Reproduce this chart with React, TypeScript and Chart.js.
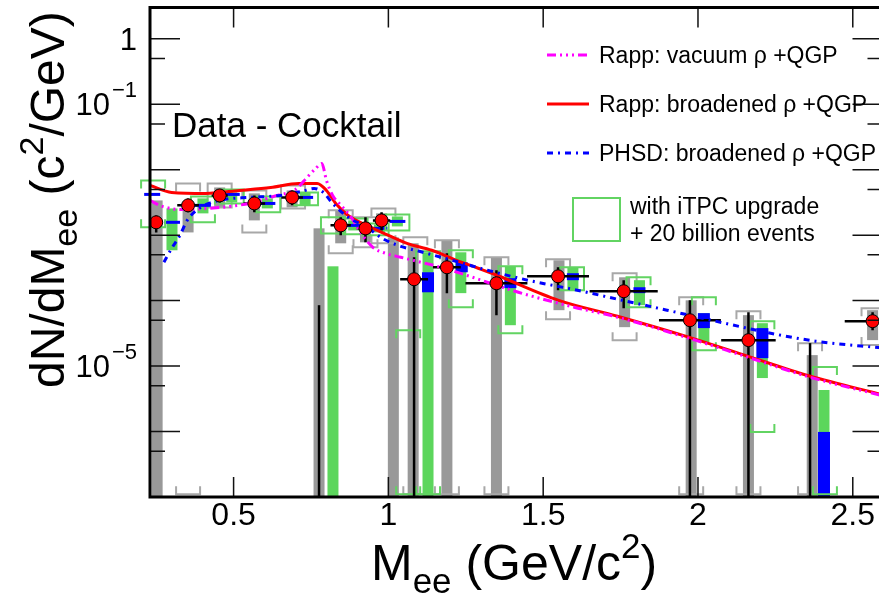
import React, { useEffect, useRef } from "react";
import { Chart, registerables } from "chart.js";

Chart.register(...registerables);

// ---------------- axis ranges & ticks ----------------
const X_MIN = 0.23;
const X_MAX = 2.596;
const Y_MIN = 1e-7;
const Y_MAX = 3;
const OFF = 1e-9; // value below the axis (error extends out of frame)
const NEAR_FLOOR = 1.1e-7;

const xTickValues = [0.5, 1, 1.5, 2, 2.5];
const xTickLabels = ["0.5", "1", "1.5", "2", "2.5"];
const yMajorTicks = [1, 1e-1, 1e-2, 1e-3, 1e-4, 1e-5, 1e-6];
const yMinorTicks = [0.5, 5e-2, 5e-3, 5e-4, 5e-5, 5e-6, 5e-7];
const yLabelValues = [1, 1e-1, 1e-5];
const yLabelBases = ["1", "10", "10"];
const yLabelExponents = ["", "\u22121", "\u22125"];

// ---------------- text ----------------
const panelLabel = "Data - Cocktail";
const modelLabels = ["Rapp: vacuum \u03c1 +QGP", "Rapp: broadened \u03c1 +QGP", "PHSD: broadened \u03c1 +QGP"];
const projectionLabels = ["with iTPC upgrade", "+ 20 billion events"];

// ---------------- model curves ----------------
const rappVacMass = [0.23, 0.27, 0.33, 0.42, 0.55, 0.64, 0.70, 0.74, 0.765, 0.785, 0.80, 0.82, 0.85, 0.88, 0.91, 0.95, 0.99, 1.04, 1.18, 1.42, 1.60, 1.74, 1.97, 2.16, 2.36, 2.60];
const rappVacYield = [3.39e-3, 2.75e-3, 2.47e-3, 2.56e-3, 3.05e-3, 4.04e-3, 4.99e-3, 7.87e-3, 1.04e-2, 1.24e-2, 6.84e-3, 4.04e-3, 2.75e-3, 1.87e-3, 1.10e-3, 6.52e-4, 5.28e-4, 4.59e-4, 3.12e-4, 1.34e-4, 7.93e-5, 5.58e-5, 2.67e-5, 1.37e-5, 6.80e-6, 3.49e-6];

const rappBroadMass = [0.23, 0.30, 0.41, 0.52, 0.62, 0.71, 0.77, 0.80, 0.83, 0.87, 0.93, 1.00, 1.06, 1.14, 1.22, 1.29, 1.35, 1.55, 1.74, 1.97, 2.16, 2.36, 2.60];
const rappBroadYield = [5.74e-3, 4.49e-3, 4.34e-3, 4.82e-3, 5.35e-3, 6.16e-3, 6.16e-3, 4.82e-3, 3.05e-3, 2.00e-3, 1.41e-3, 9.93e-4, 7.50e-4, 5.87e-4, 4.13e-4, 3.12e-4, 2.44e-4, 1.01e-4, 5.78e-5, 2.77e-5, 1.42e-5, 7.05e-6, 3.61e-6];

const phsdMass = [0.275, 0.30, 0.325, 0.35, 0.38, 0.42, 0.47, 0.55, 0.65, 0.72, 0.76, 0.79, 0.82, 0.87, 0.93, 0.98, 1.04, 1.10, 1.24, 1.32, 1.45, 1.61, 1.74, 1.90, 2.00, 2.10, 2.25, 2.38, 2.60];
const phsdYield = [3.85e-4, 6.29e-4, 9.59e-4, 1.68e-3, 2.39e-3, 3.05e-3, 3.51e-3, 3.77e-3, 4.04e-3, 4.65e-3, 5.17e-3, 4.49e-3, 3.05e-3, 1.87e-3, 1.32e-3, 8.93e-4, 6.75e-4, 5.66e-4, 3.72e-4, 2.91e-4, 2.05e-4, 1.44e-4, 1.05e-4, 7.14e-5, 5.58e-5, 4.37e-5, 3.07e-5, 2.40e-5, 1.88e-5];

// ---------------- measured data (Data - Cocktail) ----------------
const dataMass = [0.250, 0.353, 0.455, 0.567, 0.689, 0.776, 0.846, 0.926, 0.978, 1.083, 1.189, 1.349, 1.548, 1.760, 1.974, 2.163, 2.362, 2.564];
const dataYield: (number | null)[] = [1.57e-3, 2.85e-3, 4.04e-3, 3.05e-3, 3.77e-3, null, 1.41e-3, 1.27e-3, 1.68e-3, 2.12e-4, 3.23e-4, 1.84e-4, 2.35e-4, 1.39e-4, 5.02e-5, 2.49e-5, null, 4.85e-5];
const dataMassErr = [0.02, 0.035, 0.026, 0.035, 0.035, 0, 0.033, 0.028, 0.028, 0.045, 0.045, 0.1, 0.1, 0.11, 0.1, 0.088, 0, 0.09];
const dataStatLow = [1.10e-3, 2.23e-3, 3.16e-3, 2.23e-3, 2.85e-3, OFF, 9.93e-4, 7.76e-4, 1.18e-3, OFF, 1.30e-4, 5.99e-5, 1.44e-4, 7.66e-5, OFF, OFF, OFF, 3.54e-5];
const dataStatHigh = [2.00e-3, 3.64e-3, 4.82e-3, 4.04e-3, 4.82e-3, 8.51e-5, 1.87e-3, 1.87e-3, 2.23e-3, 4.59e-4, 5.28e-4, 2.91e-4, 3.23e-4, 2.05e-4, 1.01e-4, 6.65e-5, 2.24e-5, 6.65e-5];

// gray filled systematic bands of the data
const sysMass = [0.253, 0.353, 0.455, 0.567, 0.689, 0.776, 0.846, 0.926, 0.978, 1.016, 1.080, 1.189, 1.349, 1.551, 1.763, 1.978, 2.163, 2.369, 2.564];
const sysLow = [OFF, 1.10e-3, 2.65e-3, 1.68e-3, 2.65e-3, OFF, 7.50e-4, 7.76e-4, 1.18e-3, OFF, OFF, OFF, OFF, 7.14e-5, 3.93e-5, OFF, OFF, OFF, 2.49e-5];
const sysHigh = [3.39e-3, 3.05e-3, 5.35e-3, 4.34e-3, 4.82e-3, 1.27e-3, 2.39e-3, 1.51e-3, 2.15e-3, 9.25e-4, 7.50e-4, 8.33e-4, 4.59e-4, 4.13e-4, 2.27e-4, 1.01e-4, 5.99e-5, 1.47e-5, 7.14e-5];

// gray open systematic brackets of the data
const sysBoxMass = [0.353, 0.455, 0.567, 0.692, 0.846, 0.926, 0.984, 1.087, 1.189, 1.349, 1.548, 1.763, 1.978, 2.163, 2.362, 2.567];
const sysBoxLow = [NEAR_FLOOR, 2.65e-3, 1.10e-3, 2.56e-3, 5.28e-4, 6.52e-4, 7.50e-4, NEAR_FLOOR, NEAR_FLOOR, NEAR_FLOOR, 5.20e-5, 2.49e-5, NEAR_FLOOR, NEAR_FLOOR, NEAR_FLOOR, 2.09e-5];
const sysBoxHigh = [6.16e-3, 6.16e-3, 4.82e-3, 5.74e-3, 2.39e-3, 1.87e-3, 2.56e-3, 9.25e-4, 8.33e-4, 4.59e-4, 4.28e-4, 2.62e-4, 1.13e-4, 6.89e-5, 2.24e-5, 7.66e-5];

// ---------------- projection: iTPC upgrade + 20 billion events ----------------
const projMass = [0.301, 0.401, 0.494, 0.609, 0.731, 0.821, 0.888, 0.971, 1.029, 1.128, 1.234, 1.394, 1.596, 1.811, 2.019, 2.208, 2.407];
const projStatLow = [5.87e-4, 2.15e-3, 3.16e-3, 2.56e-3, 2.85e-3, OFF, 1.18e-3, 1.10e-3, 1.36e-3, OFF, 1.30e-4, 4.21e-5, 1.44e-4, 8.51e-5, 2.32e-5, 6.56e-6, OFF];
const projStatHigh = [2.56e-3, 3.64e-3, 4.49e-3, 3.64e-3, 4.49e-3, 3.34e-4, 1.68e-3, 1.46e-3, 1.93e-3, 5.47e-4, 5.47e-4, 3.34e-4, 3.23e-4, 2.05e-4, 6.43e-5, 4.52e-5, 4.31e-6];

const projCentralMass = [0.237, 0.301, 0.401, 0.494, 0.609, 0.731, 0.888, 0.971, 1.029, 1.128, 1.237, 1.394, 1.596, 1.811, 2.019, 2.208, 2.407];
const projCentralLow = [4.19e-3, 1.57e-3, 2.85e-3, 4.19e-3, 3.05e-3, 3.77e-3, 1.41e-3, 1.27e-3, 1.62e-3, 1.34e-4, 2.71e-4, 1.55e-4, 2.05e-4, 1.30e-4, 3.80e-5, 1.32e-5, OFF];
const projCentralHigh = [4.19e-3, 1.57e-3, 2.85e-3, 4.19e-3, 3.05e-3, 3.77e-3, 1.41e-3, 1.27e-3, 1.62e-3, 2.71e-4, 3.85e-4, 2.20e-4, 2.62e-4, 1.60e-4, 6.43e-5, 3.80e-5, 9.86e-7];

const projSysMass = [0.240, 0.401, 0.494, 0.612, 0.734, 0.821, 0.894, 0.962, 1.029, 1.064, 1.128, 1.234, 1.394, 1.593, 1.808, 2.019, 2.208, 2.410];
const projSysLow = [1.32e-3, 1.57e-3, 3.05e-3, 2.23e-3, 2.85e-3, 1.06e-3, 1.03e-3, 9.93e-4, 1.18e-3, NEAR_FLOOR, NEAR_FLOOR, 7.93e-5, 3.18e-5, 1.44e-4, 7.93e-5, 1.75e-5, 9.86e-7, NEAR_FLOOR];
const projSysHigh = [6.84e-3, 3.90e-3, 4.99e-3, 3.90e-3, 4.49e-3, 1.87e-3, 1.80e-3, 1.51e-3, 2.07e-3, 3.54e-5, 5.66e-4, 5.87e-4, 3.34e-4, 3.23e-4, 2.27e-4, 1.13e-4, 4.85e-5, 9.66e-6];

// ---------------- styles ----------------
const FONT = "'Liberation Sans', Arial, Helvetica, sans-serif";
const GRAY_FILL = "#999999";
const GRAY_LINE = "#a8a8a8";
const GREEN_FILL = "#5cd65c";
const GREEN_LINE = "#62d462";
const BLUE = "#0000ff";
const RED = "#ff0000";
const MAGENTA = "#ff00ff";
const DASH_VAC = [9, 4, 2, 4, 2, 4, 2, 4];
const DASH_PHSD = [6, 5, 2, 5];

type Piece = { t: string; s: number; dy: number };

function drawRich(ctx: CanvasRenderingContext2D, pieces: Piece[], x0: number, y0: number) {
  let x = x0;
  ctx.textAlign = "left";
  ctx.textBaseline = "alphabetic";
  for (const p of pieces) {
    ctx.font = `${p.s}px ${FONT}`;
    ctx.fillText(p.t, x, y0 + p.dy);
    x += ctx.measureText(p.t).width;
  }
}

function bracket(ctx: CanvasRenderingContext2D, x: number, top: number, bottom: number | null, hw: number, color: string) {
  const leg = 8;
  ctx.strokeStyle = color;
  ctx.lineWidth = 2;
  ctx.beginPath();
  if (bottom !== null && bottom - top < 2 * leg + 8) {
    ctx.rect(x - hw, top, 2 * hw, bottom - top);
    ctx.stroke();
    return;
  }
  ctx.moveTo(x - hw, top + leg);
  ctx.lineTo(x - hw, top);
  ctx.lineTo(x + hw, top);
  ctx.lineTo(x + hw, top + leg);
  if (bottom !== null) {
    ctx.moveTo(x - hw, bottom - leg);
    ctx.lineTo(x - hw, bottom);
    ctx.lineTo(x + hw, bottom);
    ctx.lineTo(x + hw, bottom - leg);
  }
  ctx.stroke();
}

const overlayPlugin = {
  id: "rootOverlay",
  beforeDatasetsDraw(chart: any) {
    const { ctx, chartArea: ca, scales } = chart;
    const X = (v: number) => scales.x.getPixelForValue(v);
    const Yraw = (v: number) => scales.y.getPixelForValue(v);
    const Y = (v: number) => Math.min(Math.max(Yraw(v), ca.top), ca.bottom);
    const Ybot = (v: number) => (Yraw(v) <= ca.bottom ? Y(v) : null);
    ctx.save();

    // gray data systematics (filled)
    ctx.fillStyle = GRAY_FILL;
    sysMass.forEach((m, i) => {
      const t = Y(sysHigh[i]);
      const b = Y(sysLow[i]);
      ctx.fillRect(X(m) - 5.5, t, 11, b - t);
    });
    // gray data systematics (open brackets)
    sysBoxMass.forEach((m, i) => bracket(ctx, X(m), Y(sysBoxHigh[i]), Ybot(sysBoxLow[i]), 12, GRAY_LINE));

    // projection stat (green filled)
    ctx.fillStyle = GREEN_FILL;
    projMass.forEach((m, i) => {
      const t = Y(projStatHigh[i]);
      const b = Y(projStatLow[i]);
      ctx.fillRect(X(m) - 5.5, t, 11, b - t);
    });
    // projection central (blue)
    ctx.fillStyle = BLUE;
    projCentralMass.forEach((m, i) => {
      const t = Y(projCentralHigh[i]);
      const b = Y(projCentralLow[i]);
      if (b - t < 3) {
        ctx.fillRect(X(m) - 8, (t + b) / 2 - 1.5, 16, 3);
      } else {
        ctx.fillRect(X(m) - 6, t, 12, b - t);
      }
    });
    // projection systematics (green brackets)
    projSysMass.forEach((m, i) => bracket(ctx, X(m), Y(projSysHigh[i]), Ybot(projSysLow[i]), 12, GREEN_LINE));

    // data statistical errors (black)
    ctx.strokeStyle = "#000";
    ctx.lineWidth = 2.5;
    dataMass.forEach((m, i) => {
      const x = X(m);
      ctx.beginPath();
      ctx.moveTo(x, Y(dataStatHigh[i]));
      ctx.lineTo(x, Y(dataStatLow[i]));
      const yv = dataYield[i];
      if (yv !== null && dataMassErr[i] > 0) {
        const yy = Y(yv);
        ctx.moveTo(X(m - dataMassErr[i]), yy);
        ctx.lineTo(X(m + dataMassErr[i]), yy);
      }
      ctx.stroke();
    });
    ctx.restore();
  },
  afterDraw(chart: any) {
    const { ctx, chartArea: ca, scales } = chart;
    const X = (v: number) => scales.x.getPixelForValue(v);
    const Y = (v: number) => scales.y.getPixelForValue(v);
    ctx.save();

    // ticks
    ctx.strokeStyle = "#111";
    ctx.lineWidth = 1.5;
    ctx.beginPath();
    xTickValues.forEach((v) => {
      const x = X(v);
      ctx.moveTo(x, ca.bottom);
      ctx.lineTo(x, ca.bottom - 20);
      ctx.moveTo(x, ca.top);
      ctx.lineTo(x, ca.top + 20);
    });
    yMajorTicks.forEach((v) => {
      const y = Y(v);
      ctx.moveTo(ca.left, y);
      ctx.lineTo(ca.left + 30, y);
      ctx.moveTo(ca.right, y);
      ctx.lineTo(ca.right - 30, y);
    });
    yMinorTicks.forEach((v) => {
      const y = Y(v);
      ctx.moveTo(ca.left, y);
      ctx.lineTo(ca.left + 15, y);
      ctx.moveTo(ca.right, y);
      ctx.lineTo(ca.right - 15, y);
    });
    ctx.stroke();

    // frame
    ctx.strokeStyle = "#000";
    ctx.lineWidth = 3;
    ctx.strokeRect(ca.left, ca.top, ca.right - ca.left, ca.bottom - ca.top);

    ctx.fillStyle = "#000";
    // x tick labels
    ctx.font = `32px ${FONT}`;
    ctx.textAlign = "center";
    ctx.textBaseline = "alphabetic";
    xTickValues.forEach((v, i) => ctx.fillText(xTickLabels[i], X(v), 525));

    // y tick labels
    yLabelValues.forEach((v, i) => {
      const y = Y(v);
      if (yLabelExponents[i] === "") {
        ctx.font = `31px ${FONT}`;
        ctx.textAlign = "right";
        ctx.fillText(yLabelBases[i], 137, y + 11);
      } else {
        ctx.font = `22px ${FONT}`;
        ctx.textAlign = "right";
        ctx.fillText(yLabelExponents[i], 137, y - 7);
        const ew = ctx.measureText(yLabelExponents[i]).width;
        ctx.font = `31px ${FONT}`;
        ctx.fillText(yLabelBases[i], 137 - ew - 2, y + 11);
      }
    });

    // axis titles
    drawRich(ctx, [
      { t: "M", s: 50, dy: 0 },
      { t: "ee", s: 35, dy: 13 },
      { t: " (GeV/c", s: 50, dy: 0 },
      { t: "2", s: 35, dy: -22 },
      { t: ")", s: 50, dy: 0 },
    ], 371, 580);

    ctx.save();
    ctx.translate(64, 388);
    ctx.rotate(-Math.PI / 2);
    drawRich(ctx, [
      { t: "dN/dM", s: 48, dy: 0 },
      { t: "ee", s: 34, dy: 13 },
      { t: " (c", s: 48, dy: 0 },
      { t: "2", s: 34, dy: -21 },
      { t: "/GeV)", s: 48, dy: 0 },
    ], 0, 0);
    ctx.restore();

    // panel label
    ctx.font = `35px ${FONT}`;
    ctx.textAlign = "left";
    ctx.fillText(panelLabel, 172, 137);

    // legend
    const legendColors = [MAGENTA, RED, BLUE];
    const legendDash = [DASH_VAC, [], DASH_PHSD];
    const rowY = [55, 104, 153];
    modelLabels.forEach((lab, i) => {
      ctx.strokeStyle = legendColors[i];
      ctx.lineWidth = 3;
      ctx.setLineDash(legendDash[i]);
      ctx.beginPath();
      ctx.moveTo(547, rowY[i]);
      ctx.lineTo(589, rowY[i]);
      ctx.stroke();
      ctx.setLineDash([]);
      ctx.font = `23px ${FONT}`;
      ctx.fillStyle = "#000";
      ctx.textAlign = "left";
      ctx.fillText(lab, 599, rowY[i] + 8);
    });
    ctx.strokeStyle = GREEN_LINE;
    ctx.lineWidth = 2;
    ctx.strokeRect(573, 198, 47, 43);
    ctx.font = `23px ${FONT}`;
    ctx.fillText(projectionLabels[0], 630, 214);
    ctx.fillText(projectionLabels[1], 630, 241);

    ctx.restore();
  },
};

function pts(xs: number[], ys: (number | null)[]) {
  const out: { x: number; y: number }[] = [];
  xs.forEach((x, i) => {
    const y = ys[i];
    if (y !== null && y !== undefined) out.push({ x, y });
  });
  return out;
}

export default function App() {
  const ref = useRef<HTMLCanvasElement>(null);
  useEffect(() => {
    document.body.style.margin = "0";
    const canvas = ref.current;
    if (!canvas) return;
    const chart = new Chart(canvas, {
      type: "scatter",
      data: {
        datasets: [
          {
            label: panelLabel,
            data: pts(dataMass, dataYield),
            pointRadius: 6.5,
            pointBackgroundColor: RED,
            pointBorderColor: "#000",
            pointBorderWidth: 1,
            showLine: false,
            clip: false,
          } as any,
          {
            label: modelLabels[2],
            data: pts(phsdMass, phsdYield),
            showLine: true,
            borderColor: BLUE,
            borderWidth: 3,
            borderDash: DASH_PHSD,
            pointRadius: 0,
            cubicInterpolationMode: "monotone",
          } as any,
          {
            label: modelLabels[0],
            data: pts(rappVacMass, rappVacYield),
            showLine: true,
            borderColor: MAGENTA,
            borderWidth: 3,
            borderDash: DASH_VAC,
            pointRadius: 0,
            cubicInterpolationMode: "monotone",
          } as any,
          {
            label: modelLabels[1],
            data: pts(rappBroadMass, rappBroadYield),
            showLine: true,
            borderColor: RED,
            borderWidth: 3,
            pointRadius: 0,
            cubicInterpolationMode: "monotone",
          } as any,
        ],
      },
      options: {
        responsive: false,
        animation: false,
        devicePixelRatio: 1,
        events: [],
        layout: { padding: { left: 150, right: 2, top: 6, bottom: 96 } },
        scales: {
          x: { type: "linear", min: X_MIN, max: X_MAX, display: false },
          y: { type: "logarithmic", min: Y_MIN, max: Y_MAX, display: false },
        },
        plugins: { legend: { display: false }, tooltip: { enabled: false } },
      },
      plugins: [overlayPlugin],
    });
    return () => chart.destroy();
  }, []);
  return (
    <div style={{ position: "absolute", left: 0, top: 0, width: 879, height: 593, overflow: "hidden", background: "#fff" }}>
      <canvas ref={ref} width={890} height={593} style={{ display: "block", width: 890, height: 593 }} />
    </div>
  );
}
